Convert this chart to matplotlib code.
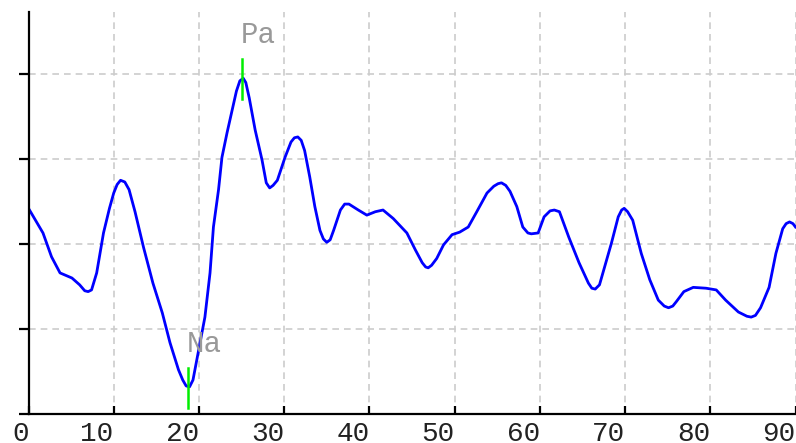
import matplotlib
matplotlib.use("Agg")
import matplotlib.pyplot as plt

# waveform points (x: time, y: amplitude in grid units)
t = [0.0, 1.7, 2.7, 3.7, 5.1, 6.0, 6.6, 7.0, 7.4, 8.0, 8.8, 9.5, 10.0, 10.4,
     10.8, 11.3, 11.8, 12.5, 13.5, 14.6, 15.7, 16.6, 17.6, 18.1, 18.5, 18.9,
     19.3, 19.9, 20.7, 21.3, 21.7, 22.3, 22.7, 23.3, 23.9, 24.4, 24.8, 25.2,
     25.5, 25.9, 26.6, 27.4, 27.9, 28.3, 28.7, 29.2, 30.1, 30.8, 31.2, 31.6,
     32.0, 32.4, 33.0, 33.6, 34.2, 34.6, 35.0, 35.4, 35.8, 36.6, 37.1, 37.6,
     38.7, 39.7, 40.7, 41.6, 42.8, 44.4, 45.4, 46.2, 46.6, 46.9, 47.3, 47.9,
     48.7, 49.7, 50.6, 51.6, 52.6, 53.8, 54.6, 55.1, 55.5, 56.0, 56.5, 57.3,
     58.0, 58.6, 59.0, 59.8, 60.5, 61.2, 61.7, 62.3, 63.4, 64.6, 65.7, 66.1,
     66.5, 67.0, 67.4, 68.4, 69.2, 69.6, 69.9, 70.3, 70.9, 71.9, 72.9, 73.9,
     74.6, 75.1, 75.6, 76.0, 76.9, 78.0, 79.5, 80.7, 81.8, 83.3, 84.3, 84.8,
     85.3, 85.9, 86.9, 87.7, 88.5, 88.9, 89.3, 89.7, 90.0]
amp = [2.42, 2.13, 1.85, 1.66, 1.60, 1.52, 1.45, 1.44, 1.46, 1.66, 2.13, 2.42,
       2.60, 2.70, 2.75, 2.73, 2.64, 2.38, 1.96, 1.54, 1.19, 0.84, 0.52, 0.40,
       0.33, 0.32, 0.40, 0.72, 1.14, 1.66, 2.20, 2.64, 3.02, 3.31, 3.58, 3.80,
       3.92, 3.95, 3.90, 3.72, 3.34, 2.99, 2.72, 2.66, 2.69, 2.75, 3.02, 3.20,
       3.25, 3.26, 3.22, 3.10, 2.79, 2.44, 2.16, 2.06, 2.02, 2.05, 2.16, 2.40,
       2.47, 2.47, 2.40, 2.34, 2.38, 2.40, 2.30, 2.13, 1.93, 1.78, 1.73, 1.72,
       1.75, 1.83, 1.99, 2.11, 2.14, 2.20, 2.38, 2.60, 2.68, 2.71, 2.72, 2.69,
       2.62, 2.44, 2.20, 2.13, 2.12, 2.13, 2.32, 2.39, 2.40, 2.38, 2.08, 1.78,
       1.54, 1.48, 1.47, 1.52, 1.66, 2.01, 2.32, 2.40, 2.42, 2.38, 2.28, 1.89,
       1.58, 1.34, 1.27, 1.25, 1.27, 1.32, 1.44, 1.49, 1.48, 1.46, 1.34, 1.20,
       1.15, 1.14, 1.16, 1.25, 1.49, 1.89, 2.18, 2.24, 2.26, 2.24, 2.20]

# peak markers
peak_names = ["Na", "Pa"]
peak_t = [18.7, 25.0]
peak_amp = [0.31, 3.94]

x_ticks = [0, 10, 20, 30, 40, 50, 60, 70, 80, 90]
y_ticks = [0, 1, 2, 3, 4]

fig = plt.figure(figsize=(7.96, 4.43), dpi=100)
ax = fig.add_axes([28.5 / 796, 29 / 443, (795.5 - 28.5) / 796, (414 - 12) / 443])

ax.plot(t, amp, color="#0000ff", lw=2.0, zorder=3)

for name, pt, pa in zip(peak_names, peak_t, peak_amp):
    ax.plot([pt, pt], [pa - 0.235, pa + 0.235], color="#00ee00", lw=1.8, zorder=4)
    ax.text(pt - 0.15, pa + 0.42, name, family="Liberation Mono", fontsize=21,
            color="#999999", ha="left", va="baseline", zorder=5)

ax.set_xlim(0, 90)
ax.set_ylim(0, 4.73)
ax.set_xticks(x_ticks)
ax.set_yticks(y_ticks)
ax.set_yticklabels([])
ax.set_xticklabels([str(v) for v in x_ticks], family="Liberation Mono",
                   fontsize=20, color="#222222", ha="right")

ax.grid(True, color="#cccccc", lw=1.2, linestyle=(0, (4, 3)))
ax.set_axisbelow(True)

for side in ["top", "right"]:
    ax.spines[side].set_visible(False)
for side in ["left", "bottom"]:
    ax.spines[side].set_linewidth(1.6)
    ax.spines[side].set_color("black")

ax.tick_params(axis="x", direction="in", length=6, width=1.6, pad=5)
ax.tick_params(axis="y", direction="out", length=7, width=1.6)
ax.spines["left"].set_zorder(6)
ax.spines["bottom"].set_zorder(6)

fig.savefig("out.png", dpi=100)
